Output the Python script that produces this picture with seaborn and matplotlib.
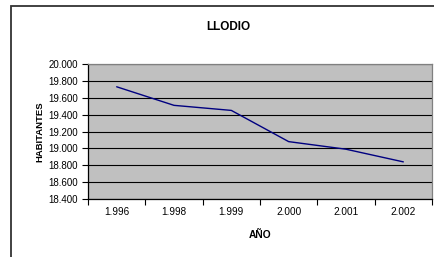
import matplotlib
matplotlib.use("Agg")
import matplotlib.pyplot as plt
import seaborn as sns
import pandas as pd
from matplotlib.patches import Rectangle

years = ["1.996", "1.998", "1.999", "2.000", "2.001", "2.002"]
habitantes = [19730, 19510, 19450, 19080, 18990, 18840]
yticks = [18400, 18600, 18800, 19000, 19200, 19400, 19600, 19800, 20000]
ytick_labels = ["18.400", "18.600", "18.800", "19.000", "19.200", "19.400", "19.600", "19.800", "20.000"]

df = pd.DataFrame({"year": years, "hab": habitantes})
df["x"] = range(len(years))

sns.set_theme(style="white")
plt.rcParams["font.family"] = ["Liberation Sans", "DejaVu Sans"]
plt.rcParams["text.color"] = "black"
plt.rcParams["axes.labelcolor"] = "black"
plt.rcParams["xtick.color"] = "black"
plt.rcParams["ytick.color"] = "black"

W, H = 434, 257
fig = plt.figure(figsize=(W / 100, H / 100), dpi=100)
left, right, top, bottom = 88, 432, 64, 199
ax = fig.add_axes([left / W, 1 - bottom / H, (right - left) / W, (bottom - top) / H])

# outer chart frame (cut off at right and bottom)
fig.patches.append(Rectangle((10.5 / W, -0.1), 1.2, (1 - 5.5 / H) + 0.1,
                             transform=fig.transFigure, fill=False,
                             edgecolor="#333333", linewidth=1.3))

ax.set_facecolor("#C0C0C0")
sns.lineplot(data=df, x="x", y="hab", ax=ax, color="#000080", linewidth=1.0)

ax.set_xlim(-0.5, len(years) - 0.5)
ax.set_ylim(18400, 20000)
ax.set_yticks(yticks)
ax.set_yticklabels(ytick_labels)
ax.set_xticks([i - 0.5 for i in range(len(years) + 1)])
ax.set_xticklabels([])
ax.set_xticks(range(len(years)), minor=True)
ax.set_xticklabels(years, minor=True)
ax.tick_params(axis="x", which="minor", length=0, pad=5.5, labelsize=7.2, labelcolor="black")
ax.tick_params(axis="x", which="major", direction="out", length=4, width=0.8, color="black", bottom=True)
ax.tick_params(axis="y", direction="out", length=4, width=0.8, color="black", left=True, labelsize=7, pad=3, labelcolor="black")

for yv in yticks:
    ax.axhline(yv, color="#000000", linewidth=0.8, zorder=0.5)

for s in ["left", "bottom"]:
    ax.spines[s].set_color("black")
    ax.spines[s].set_linewidth(0.9)
for s in ["top", "right"]:
    ax.spines[s].set_color("#808080")
    ax.spines[s].set_linewidth(0.9)

ax.set_xlabel("AÑO", fontsize=7.4, fontweight="bold", labelpad=9.5, color="black")
ax.set_ylabel("HABITANTES", fontsize=6.8, fontweight="bold", labelpad=3, color="black")
fig.text(228 / W, 1 - 27 / H, "LLODIO", ha="center", va="center", fontsize=8.5, fontweight="bold", color="black")

fig.savefig("out.png", dpi=100)
